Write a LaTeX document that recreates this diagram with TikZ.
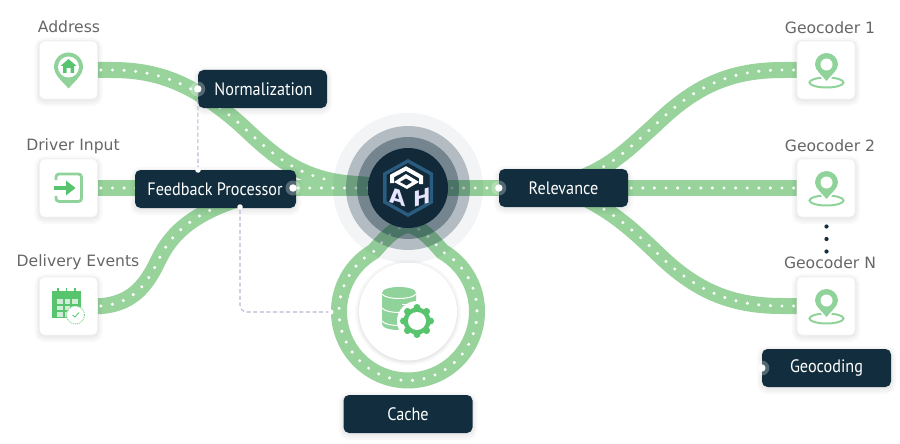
\documentclass[tikz,border=0pt]{standalone}
\usepackage{fontspec}
\setmainfont{DejaVu Sans}
\newfontfamily\boxfont[FakeStretch=0.9]{PT Sans}
\usetikzlibrary{calc}
\definecolor{trackgreen}{HTML}{97D39B}
\definecolor{lightgreen}{HTML}{8FD39A}
\definecolor{deepgreen}{HTML}{58C46E}
\definecolor{navybox}{HTML}{122E3E}
\definecolor{labelgrey}{HTML}{666666}
\definecolor{dashlilac}{HTML}{B9B7D2}
\definecolor{hubA}{HTML}{12293A}
\definecolor{hubB}{HTML}{48697A}
\definecolor{hubC}{HTML}{1A3543}
\definecolor{logoblue}{HTML}{2A5C80}
\pgfdeclareradialshading{hubshade}{\pgfpoint{0bp}{0bp}}{color(0bp)=(hubA);color(30bp)=(hubA);color(41bp)=(hubB);color(50bp)=(hubC);color(100bp)=(hubC)}
\newcommand{\trackline}[1]{\draw[trackbase] #1; \draw[trackdots] #1;}
\newcommand{\geopin}[2]{%
  \begin{scope}[shift={(#1,#2)}]
    \draw[lightgreen,line width=2pt] (0,18) ellipse [x radius=17pt,y radius=5pt];
    \fill[white] (-14,0) -- (14,0) -- (0,21) -- cycle;
    \fill[lightgreen] (-11.5,0) arc[start angle=180,end angle=0,radius=11.5pt]
      .. controls (11.5,6) and (4,11) .. (0,16.5) .. controls (-4,11) and (-11.5,6) .. (-11.5,0) -- cycle;
    \fill[white] (0,0) circle[radius=6pt];
  \end{scope}}
\tikzset{
  x=1pt,y=-1pt,
  softshadow/.style={
    preaction={draw=black,draw opacity=.025,line width=10pt,transform canvas={yshift=-2pt}},
    preaction={draw=black,draw opacity=.025,line width=6pt,transform canvas={yshift=-2pt}},
    preaction={draw=black,draw opacity=.03,line width=3pt,transform canvas={yshift=-1pt}}},
  iconbox/.style={softshadow,rectangle,rounded corners=5pt,fill=white,draw=black!5,line width=.6pt,minimum width=58pt,minimum height=58pt,inner sep=0pt},
  darkbox/.style={softshadow,rectangle,rounded corners=5.5pt,fill=navybox,text=white,minimum height=38pt,inner sep=0pt,font=\boxfont\fontsize{18}{20}\selectfont},
  toplabel/.style={text=labelgrey,inner sep=0pt,font=\fontsize{15.6}{18}\selectfont},
  trackbase/.style={draw=trackgreen,line width=16pt},
  trackdots/.style={draw=white,line width=3.4pt,line cap=round,dash pattern=on 0pt off 11.6pt,dash phase=2.4pt},
  portdot/.style={fill=white,circle,minimum size=7.5pt,inner sep=0pt},
  porthalo/.style={fill=white,fill opacity=.28,circle,minimum size=15pt,inner sep=0pt},
  dashlink/.style={draw=dashlilac,line width=1.1pt,dash pattern=on 4pt off 2.6pt},
  hubring/.style={fill=navybox,circle,inner sep=0pt},
}
\begin{document}
\begin{tikzpicture}
\useasboundingbox (0,0) rectangle (900,444);
\fill[white] (0,0) rectangle (900,444);

% anchors
\coordinate (hubc) at (408,188);
\coordinate (ringc) at (408,311.5);
\coordinate (addrc) at (68.5,70);
\coordinate (driverc) at (68.5,188);
\coordinate (delivc) at (68.5,306);
\coordinate (geoac) at (826,70);
\coordinate (geobc) at (826,188);
\coordinate (geonc) at (826,306);

% tracks
\trackline{(addrc) -- (112,70) .. controls (160,70) and (195,85) .. (240,124) .. controls (270,152) and (295,177) .. (345,183) -- (hubc)}
\trackline{(driverc) -- (hubc)}
\trackline{(delivc) -- (102,306) .. controls (135,303) and (148,282) .. (159,259) .. controls (172,232) and (195,212) .. (245,197)}
\trackline{(hubc) -- (563,188)}
\trackline{(geobc) -- (563,188)}
\trackline{(geoac) -- (783,70) .. controls (730,70) and (695,86) .. (655,125) .. controls (625,152) and (610,168) .. (570,182)}
\trackline{(geonc) -- (782,306) .. controls (730,306) and (695,290) .. (658,254) .. controls (635,232) and (615,213) .. (582,197)}
\coordinate (ringstart) at (408,225);
\trackline{(ringstart) .. controls (395,227) and (384,240) .. (373.5,251.7) arc[start angle=120,end angle=420,radius=69pt] .. controls (432,240) and (421,227) .. (ringstart)}

% icon boxes
\node[iconbox] (addr) at (addrc) {};
\node[iconbox] (driver) at (driverc) {};
\node[iconbox] (deliv) at (delivc) {};
\node[iconbox] (geoa) at (geoac) {};
\node[iconbox] (geob) at (geobc) {};
\node[iconbox] (geon) at (geonc) {};

% hub
\node[hubring,opacity=.05,minimum size=150pt] (halo) at (hubc) {};
\node[hubring,opacity=.28,minimum size=124pt] (haloa) at (hubc) {};
\node[hubring,opacity=.38,minimum size=102pt] (halob) at (hubc) {};
\node[circle,minimum size=80pt,inner sep=0pt,shading=hubshade] (hub) at (hubc) {};
% logo
\fill[logoblue] (408,159) -- (433,173) -- (433,203) -- (408,217) -- (383,203) -- (383,173) -- cycle;
\fill[hubA] (408,163) -- (429.5,175) -- (429.5,201) -- (408,213) -- (386.5,201) -- (386.5,175) -- cycle;
\draw[white,line width=4pt,line join=miter] (392,183) -- (392,176) -- (406,168.5) -- (421,177) -- (421,184);
\fill[white] (406,174) -- (419,182) -- (407,189) -- (394,182) -- cycle;
\fill[hubA] (406,178.5) -- (412,182) -- (406.5,185.5) -- (400,182) -- cycle;
\node[text=white!90!blue,font=\bfseries\fontsize{21}{22}\selectfont,inner sep=0pt,yslant=-.28,transform shape] (logoa) at (398,197) {A};
\node[text=white!90!blue,font=\bfseries\fontsize{21}{22}\selectfont,inner sep=0pt,yslant=.28,transform shape] (logoh) at (422,197) {H};

% cache disc
\node[circle,fill=white,minimum size=98pt,inner sep=0pt,
  preaction={fill=black,fill opacity=.03,draw=black,draw opacity=.03,line width=7pt,transform canvas={yshift=-1pt}},
  preaction={draw=black,draw opacity=.04,line width=3pt,transform canvas={yshift=-1pt}}] (disc) at (ringc) {};
\fill[lightgreen] (382,293) -- (382,324) .. controls (382,332) and (416,332) .. (416,324) -- (416,293) .. controls (416,285) and (382,285) .. (382,293) -- cycle;
\draw[white,line width=1pt] (382,294) .. controls (386,300) and (412,300) .. (416,294);
\draw[white,line width=1pt] (382,308) .. controls (386,314) and (412,314) .. (416,308);
\draw[white,line width=1pt] (382,321) .. controls (386,327) and (412,327) .. (416,321);
\draw[white,line width=1pt] (402,304) -- (407,304);
\fill[white] (417,321) circle[radius=20pt];
\fill[deepgreen] (417,321) circle[radius=13.5pt];
\foreach \a in {0,45,...,315}{\fill[deepgreen] ($(417,321)+(\a:13.5)$) circle[radius=3.5pt];}
\fill[white] (417,321) circle[radius=9pt];

% icons
\fill[lightgreen] (54,67) arc[start angle=180,end angle=0,radius=14.5pt]
  .. controls (83,75) and (74,82) .. (68.5,88.5) .. controls (63,82) and (54,75) .. (54,67) -- cycle;
\fill[white] (68.5,67) circle[radius=10.5pt];
\fill[deepgreen] (60.5,66) -- (68.5,59) -- (76.5,66) -- (74,66) -- (74,73) -- (70.5,73) -- (70.5,68) -- (66.5,68) -- (66.5,73) -- (63,73) -- (63,66) -- cycle;

\draw[lightgreen,line width=2.8pt,rounded corners=3pt] (56,180) -- (56,174) -- (81.5,174) -- (81.5,201.5) -- (56,201.5) -- (56,196);
\draw[deepgreen,line width=3.4pt] (54,188) -- (68,188);
\fill[deepgreen] (66,180.5) -- (75.5,188) -- (66,195.5) -- cycle;

\fill[deepgreen] (52,291) rectangle (81,318);
\draw[deepgreen,line width=1.4pt] (58,288) -- (58,294) (66.5,288) -- (66.5,294) (75,288) -- (75,294);
\foreach \px in {57,64.5,72}{\foreach \py in {299,305.5,312}{\fill[white!60!lightgreen] (\px,\py) rectangle ++(5.5,4.5);}}
\draw[deepgreen!80,fill=white,line width=.9pt,densely dotted] (75.5,315) circle[radius=9pt];
\draw[deepgreen,line width=.8pt] (72.5,315) -- (75,317) -- (79,312.5);

\geopin{826.5}{64.5}
\geopin{826.5}{182.5}
\geopin{826.5}{300.5}

% boxes
\node[darkbox,minimum width=129pt] (norm) at (262.5,89) {\hspace{2pt}Normalization};
\node[darkbox,minimum width=161pt] (feed) at (215.5,189) {\hspace{-1pt}Feedback Processor\hspace{1pt}};
\node[darkbox,minimum width=129pt] (relev) at (563.5,188) {Relevance};
\node[darkbox,minimum width=129pt] (cache) at (408,414) {Cache};
\node[darkbox,minimum width=129pt] (geocoding) at (826.5,368) {Geocoding};

% ports
\node[portdot] (pnorm) at (norm.west) {};
\node[porthalo] at (norm.west) {};
\node[portdot] (pfeedr) at (293,188) {};
\node[porthalo] at (293,188) {};
\node[portdot,minimum size=5.5pt] (pfeedt) at (198,170) {};
\node[portdot,minimum size=5.5pt] (pfeedb) at (240,207) {};
\node[portdot] (prelev) at (relev.west) {};
\node[porthalo] at (relev.west) {};
\node[portdot] (pgeo) at (geocoding.west) {};
\node[porthalo] at (geocoding.west) {};
\node[portdot,minimum size=5pt] (pcache) at (331,312) {};

% dashed links
\draw[dashlink] (pnorm) -- (pfeedt);
\draw[dashlink,rounded corners=7pt] (pfeedb) |- (pcache);

% dots
\foreach \dy/\nm in {226.5/dota,239/dotb,251.5/dotc}{\node[circle,fill=navybox,minimum size=4.2pt,inner sep=0pt] (\nm) at (826.5,\dy) {};}

% labels
\node[toplabel] (laddr) at (69,27) {Address};
\node[toplabel] (ldriver) at (73,146) {Driver Input};
\node[toplabel] (ldeliv) at (78,262) {Delivery Events};
\node[toplabel] (lgeoa) at (830,27.5) {Geocoder 1};
\node[toplabel] (lgeob) at (830,146) {Geocoder 2};
\node[toplabel] (lgeon) at (830,263) {Geocoder N};
\end{tikzpicture}
\end{document}
